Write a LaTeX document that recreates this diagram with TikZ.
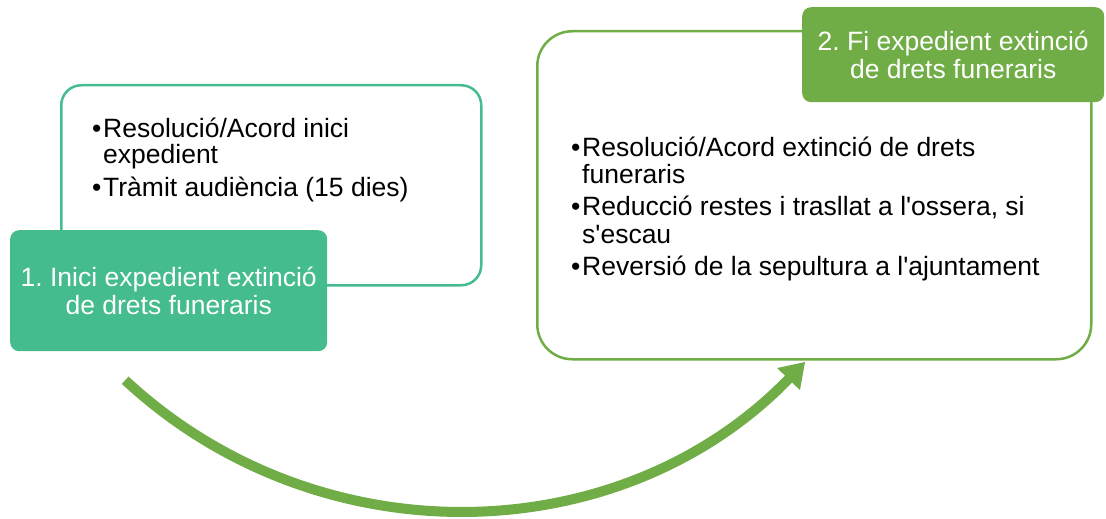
\documentclass[tikz,border=0pt]{standalone}
\usepackage{fontspec}
\setmainfont{Liberation Sans}
\usetikzlibrary{arrows.meta}
\definecolor{tealg}{HTML}{45BC8D}
\definecolor{grn}{HTML}{70AD47}
\tikzset{
  frame/.style={draw, line width=2.5pt, fill=white, inner sep=0pt, anchor=north west},
  fillbox/.style={inner sep=0pt, anchor=north west, rounded corners=9pt, text=white,
    align=center, font=\fontsize{26.5}{28}\selectfont},
  body/.style={anchor=base west, inner sep=0pt, text=black, font=\fontsize{26.5}{26}\selectfont},
  bigarrow/.style={draw=grn, line width=10pt, -{Triangle[length=24pt,width=30pt]}}
}
\newcommand{\bul}{\makebox[11pt][l]{•}}
\newcommand{\apos}{\textquotesingle}
\begin{document}
\frenchspacing
\begin{tikzpicture}[x=1pt,y=-1pt]
\useasboundingbox (0,0) rectangle (1106,519);
% step 1
\node[frame, draw=tealg, rounded corners=20pt, minimum width=420pt, minimum height=200pt] (o1) at (60,84) {};
\node[fillbox, fill=tealg, minimum width=317pt, minimum height=121pt] (b1) at (10,230)
  {1. Inici expedient extinció\\de drets funeraris};
\node[body] (t11) at (92,137) {\bul Resolució/Acord inici};
\node[body] (t12) at (103,163) {expedient};
\node[body] (t13) at (92,196) {\bul Tràmit audiència (15 dies)};
% step 2
\node[frame, draw=grn, rounded corners=35pt, minimum width=554pt, minimum height=328pt] (o2) at (536,30) {};
\node[fillbox, fill=grn, minimum width=302pt, minimum height=95pt] (b2) at (802,7)
  {2. Fi expedient extinció\\de drets funeraris};
\node[body] (t21) at (571,156) {\bul Resolució/Acord extinció de drets};
\node[body] (t22) at (582,183) {funeraris};
\node[body] (t23) at (571,215) {\bul Reducció restes i trasllat a l\apos ossera, si};
\node[body] (t24) at (582,243) {s\apos escau};
\node[body] (t25) at (571,275) {\bul Reversió de la sepultura a l\apos ajuntament};
% arrow
\coordinate (as) at (125.2,380.2);
\draw[bigarrow] (as) arc[start angle=132.9, end angle=44, radius=485.7] coordinate (ae);
\end{tikzpicture}
\end{document}
